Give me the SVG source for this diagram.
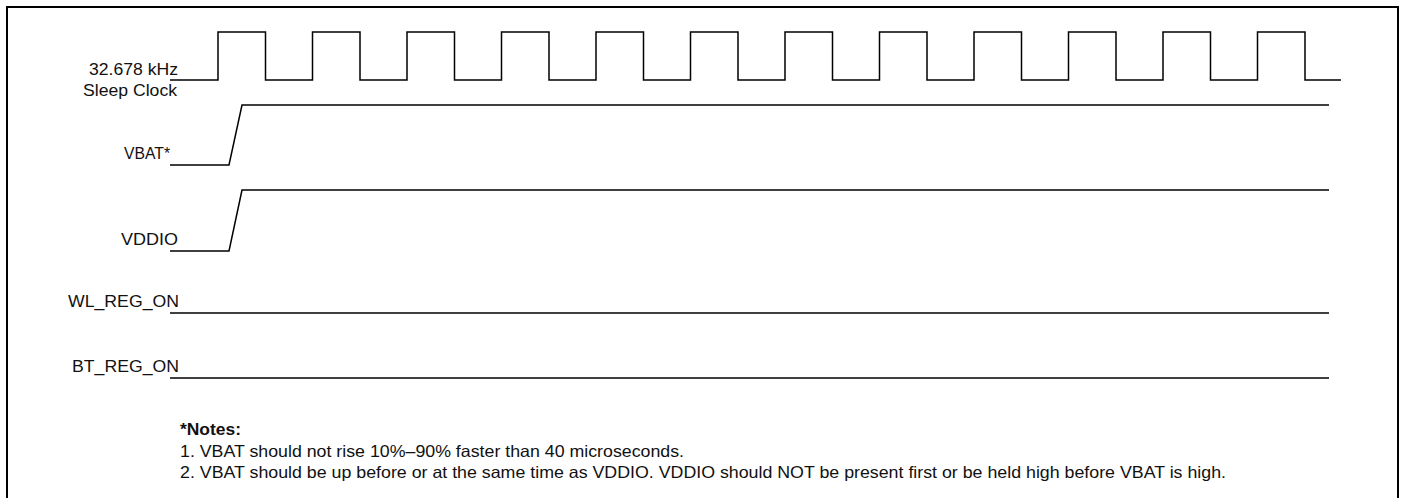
<svg xmlns="http://www.w3.org/2000/svg" width="1405" height="498" viewBox="0 0 1405 498">
<style>
.sig{fill:none;stroke:#000;stroke-width:1.5;stroke-linejoin:miter}
.lbl{font-family:"Liberation Sans",Arial,sans-serif;font-size:16.5px;fill:#111;text-anchor:start}
.note{font-family:"Liberation Sans",Arial,sans-serif;font-size:16.5px;fill:#111}
</style>
<rect x="7" y="7" width="1391" height="500" fill="#fff" stroke="#000" stroke-width="2"/>
<g id="connectors">
<path class="sig" d="M170,80 H218 V32 H265.5 V80 H312.5 V32 H360 V80 H407 V32 H454.5 V80 H501.5 V32 H549 V80 H596 V32 H643.5 V80 H690.5 V32 H738 V80 H785 V32 H832.5 V80 H879.5 V32 H927 V80 H974 V32 H1021.5 V80 H1068.5 V32 H1116 V80 H1163 V32 H1210.5 V80 H1257.5 V32 H1305 V80 H1341"/>
<path class="sig" d="M170,165 H229 L242,105 H1329"/>
<path class="sig" d="M170,251 H229 L242,190 H1329"/>
<path class="sig" d="M170,313 H1329"/>
<path class="sig" d="M170,378 H1329"/>
</g>
<g id="clk">
<text class="lbl" x="89" y="75" textLength="89" lengthAdjust="spacingAndGlyphs">32.678 kHz</text>
<text class="lbl" x="83" y="96" textLength="94" lengthAdjust="spacingAndGlyphs">Sleep Clock</text>
</g>
<g id="vbat"><text class="lbl" x="124" y="159" textLength="46" lengthAdjust="spacingAndGlyphs">VBAT*</text></g>
<g id="vddio"><text class="lbl" x="121" y="245" textLength="57" lengthAdjust="spacingAndGlyphs">VDDIO</text></g>
<g id="wl"><text class="lbl" x="68" y="307" textLength="111" lengthAdjust="spacingAndGlyphs">WL_REG_ON</text></g>
<g id="bt"><text class="lbl" x="72" y="372" textLength="107" lengthAdjust="spacingAndGlyphs">BT_REG_ON</text></g>
<g id="notes">
<text class="note" x="180" y="435" font-weight="bold" textLength="61" lengthAdjust="spacingAndGlyphs">*Notes:</text>
<text class="note" x="180" y="457" textLength="504" lengthAdjust="spacingAndGlyphs">1. VBAT should not rise 10%–90% faster than 40 microseconds.</text>
<text class="note" x="180" y="478" textLength="1046" lengthAdjust="spacingAndGlyphs">2. VBAT should be up before or at the same time as VDDIO. VDDIO should NOT be present first or be held high before VBAT is high.</text>
</g>
</svg>
